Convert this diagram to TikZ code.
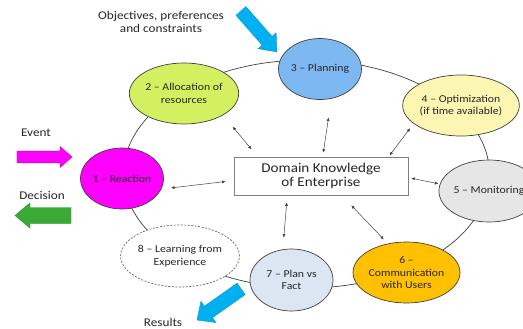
\documentclass[tikz,border=0pt]{standalone}
\usepackage{fontspec}
\setmainfont{Carlito}[FakeStretch=1.12]
\usetikzlibrary{shapes.geometric,arrows.meta}

\definecolor{ringline}{HTML}{404040}
\definecolor{txt}{HTML}{262626}
\definecolor{boxline}{HTML}{7F7F7F}
\definecolor{reactfill}{HTML}{FF00FF}
\definecolor{allocfill}{HTML}{D4F060}
\definecolor{planfill}{HTML}{7EB8F2}
\definecolor{optfill}{HTML}{FDF6B2}
\definecolor{monfill}{HTML}{E6E6E6}
\definecolor{commfill}{HTML}{FFC000}
\definecolor{factfill}{HTML}{DCE6F2}
\definecolor{skyblue}{HTML}{00B0F0}
\definecolor{leafgreen}{HTML}{3BAA35}

\tikzset{
  stage/.style={ellipse, draw=ringline, line width=0.7pt, inner sep=0pt,
    minimum width=83pt, minimum height=61pt, align=center, text=txt,
    font=\fontsize{10.5}{12.5}\selectfont},
  kbox/.style={rectangle, draw=boxline, line width=0.8pt, fill=white,
    minimum width=174pt, minimum height=38pt, inner sep=0pt, align=center,
    text=txt, font=\fontsize{13.5}{14.5}\selectfont},
  caption/.style={align=center, text=txt, inner sep=0pt,
    font=\fontsize{11.8}{13}\selectfont},
  link/.style={draw=ringline, line width=0.5pt,
    {Latex[length=3.5pt,width=3pt]}-{Latex[length=3.5pt,width=3pt]}},
  pics/blockarrow/.style n args={5}{code={
    \draw[#5] (0,0) -- (-#4,-#3) -- (-#4,-#2) -- (-#1,-#2) -- (-#1,#2)
      -- (-#4,#2) -- (-#4,#3) -- cycle;}},
}

\begin{document}
\begin{tikzpicture}[x=1pt,y=-1pt]
\useasboundingbox (0,0) rectangle (523,329);

% the cycle joining the eight stages
\node[ellipse, draw=ringline, line width=0.7pt, inner sep=0pt,
  minimum width=366pt, minimum height=228pt] (ring) at (306.5,174) {};

% stages
\node[stage, fill=reactfill] (n1) at (122,178.5) {1 -- Reaction};
\node[stage, fill=allocfill] (n2) at (184,93.5) {2 -- Allocation of\\resources};
\node[stage, fill=planfill] (n3) at (320,69) {3 -- Planning};
\node[stage, fill=optfill] (n4) at (461,105.5) {4 -- Optimization\\(if time available)};
\node[stage, fill=monfill, minimum height=62pt] (n5) at (489,191) {5 -- Monitoring};
\node[stage, fill=commfill] (n6) at (406.5,272.5) {6 --\\Communication\\with Users};
\node[stage, fill=factfill, minimum height=62pt] (n7) at (291.5,280) {7 -- Plan vs\\Fact};
\node[stage, fill=white, draw=ringline!80, dash pattern=on 2pt off 1.5pt,
  minimum height=62pt] (n8) at (180,256) {8 -- Learning from\\Experience};

% central knowledge base
\node[kbox] (kb) at (321,176) {Domain Knowledge\\of Enterprise};

% exchanges between the knowledge base and the stages
\draw[link, shorten <=8pt, shorten >=9.7pt] (kb.183) -- (n1.-15);
\draw[link, shorten <=9.5pt, shorten >=15pt] (kb.163) -- (n2.-29);
\draw[link, shorten <=4pt, shorten >=19pt] (kb.85) -- (n3.-69);
\draw[link, shorten <=1.5pt, shorten >=5.7pt] (kb.16) -- (n4.201);
\draw[link, shorten <=3pt, shorten >=1.5pt] (kb.-1) -- (n5.172);
\draw[link, shorten <=13.7pt, shorten >=5.7pt] (kb.-43) -- (n6.123);
\draw[link, shorten <=7pt, shorten >=11.7pt] (kb.210) -- (n7.106);

% inputs and outputs
\pic[rotate=-48.7] (inarrow) at (277,52)
  {blockarrow={54.6}{6.6}{12}{15}{fill=skyblue, draw=skyblue!85!black, line width=0.4pt}};
\pic[rotate=-144.8] (outarrow) at (197,320)
  {blockarrow={54}{7}{13}{14}{fill=skyblue, draw=skyblue!85!black, line width=0.4pt}};
\pic (eventarrow) at (72,157)
  {blockarrow={55}{5.85}{10.5}{12}{fill=reactfill, draw=reactfill!75!black, line width=0.4pt}};
\pic[rotate=180] (decarrow) at (15,215.5)
  {blockarrow={56}{8}{12.5}{15}{fill=leafgreen, draw=leafgreen!80!black, line width=0.4pt}};

\node[caption] (objectives) at (161,21.5) {Objectives, preferences\\and constraints};
\node[caption] (event) at (36,133) {Event};
\node[caption] (decision) at (42,195) {Decision};
\node[caption] (results) at (163,322) {Results};
\end{tikzpicture}
\end{document}
